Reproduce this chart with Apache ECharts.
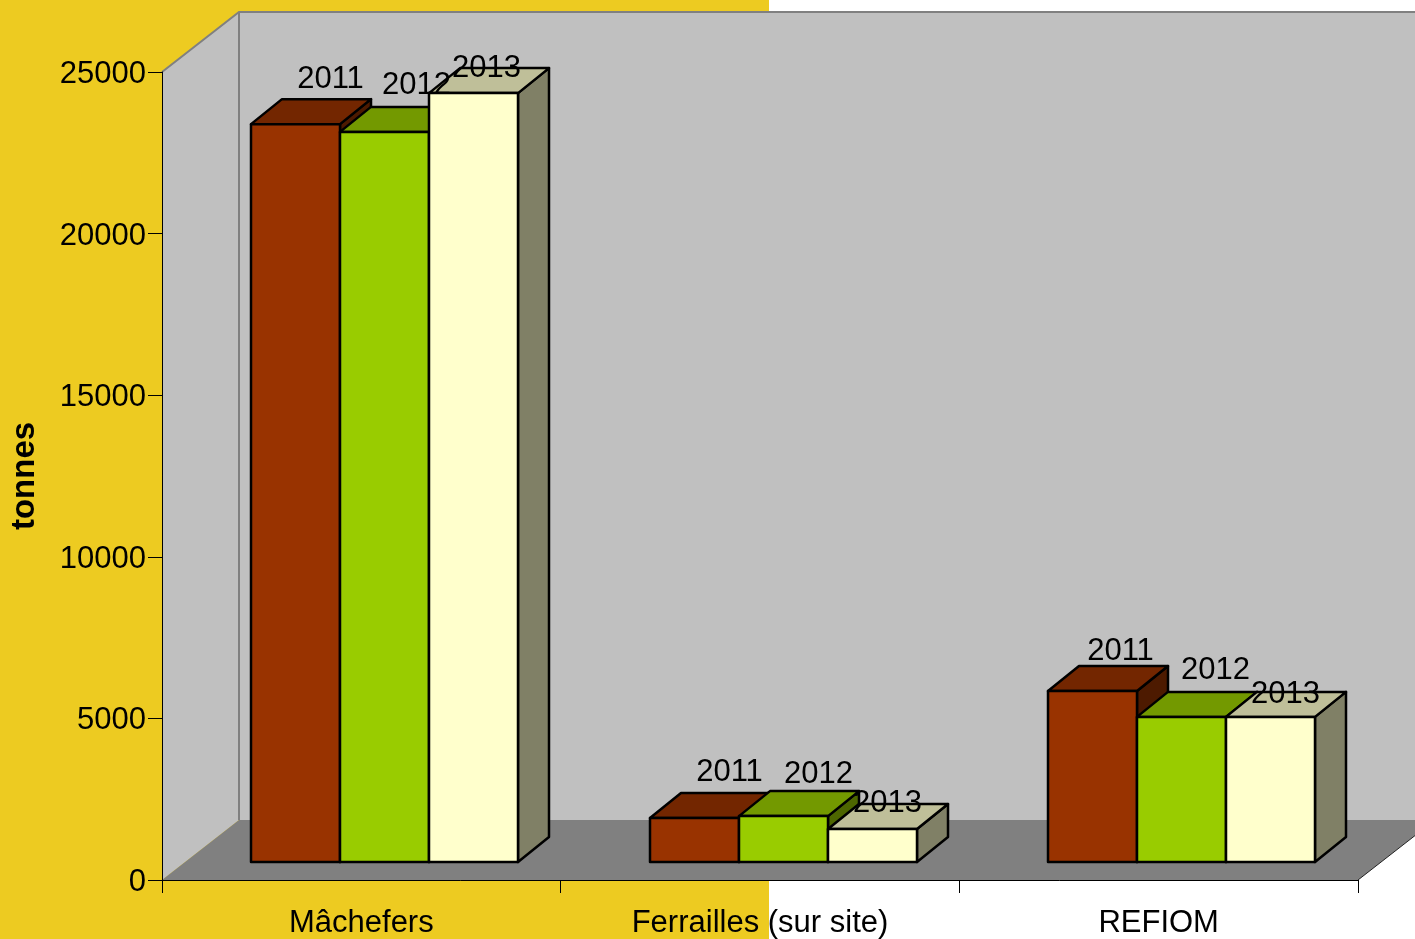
<!DOCTYPE html>
<html><head><meta charset="utf-8">
<style>html,body{margin:0;padding:0;background:#fff}#c{width:1415px;height:939px}</style>
<script src="https://cdn.jsdelivr.net/npm/echarts@6/dist/echarts.min.js"></script>
</head><body><div id="c"></div>
<script>
const categories = ['Mâchefers', 'Ferrailles (sur site)', 'REFIOM'];
const years = ['2011', '2012', '2013'];
const values2011 = [22830, 1360, 5290];
const values2012 = [22590, 1420, 4490];
const values2013 = [23790, 1020, 4490];
const yTicks = {min: 0, max: 25000, interval: 5000};
const allValues = [values2011, values2012, values2013];

const frontColors = ['#993300', '#99CC00', '#FFFFCC'];
const topColors = ['#732600', '#739900', '#BFBF99'];
const sideColors = ['#4D1A00', '#4D6600', '#808066'];
const wallDx = 77, wallDy = -60;      // depth of the 3D box
const barShiftX = 23, barShiftY = -18; // bar front plane vs axis plane
const barDx = 31, barDy = -25;         // depth of each bar
const barW = 89;
// label offset from the bar's top centre, [category][series]
const labelOffsets = [
  [[35, -45], [32, -46], [13, -25]],
  [[35, -46], [35, -42], [15, -26]],
  [[28, -40], [34, -46], [15, -22]]
];
const FONT = '"Liberation Sans", Arial, sans-serif';

const chart = echarts.init(document.getElementById('c'), null, {renderer: 'canvas'});

function renderWalls(params, api) {
  const c = params.coordSys;
  const l = c.x, r = c.x + c.width, t = c.y, b = c.y + c.height;
  const grey = '#808080';
  return {type: 'group', children: [
    {type: 'rect', shape: {x: l + wallDx, y: t + wallDy, width: c.width, height: c.height}, style: {fill: '#C0C0C0'}},
    {type: 'polygon', shape: {points: [[l, t], [l + wallDx, t + wallDy], [l + wallDx, b + wallDy], [l, b]]}, style: {fill: '#C0C0C0'}},
    {type: 'polygon', shape: {points: [[l, b], [l + wallDx, b + wallDy], [r + wallDx, b + wallDy], [r, b]]}, style: {fill: '#808080'}},
    {type: 'polyline', shape: {points: [[l, t], [l + wallDx, t + wallDy], [r + wallDx, t + wallDy]]}, style: {fill: 'none', stroke: grey, lineWidth: 2}},
    {type: 'line', shape: {x1: l + wallDx, y1: t + wallDy, x2: l + wallDx, y2: b + wallDy}, style: {stroke: grey, lineWidth: 2}},
    {type: 'line', shape: {x1: r, y1: b, x2: r + wallDx, y2: b + wallDy}, style: {stroke: '#222', lineWidth: 1}}
  ]};
}

function barGeom(api, s) {
  const base = api.coord([api.value(0), 0]);
  const top = api.coord([api.value(0), api.value(1)]);
  const x0 = Math.round(base[0] + barShiftX - 1.5 * barW + s * barW);
  return {x0, x1: x0 + barW, yb: base[1] + barShiftY, yt: top[1] + barShiftY};
}

function renderBar(s) {
  return function (params, api) {
    const g = barGeom(api, s);
    const line = {stroke: '#000', lineWidth: 2.5, lineJoin: 'round'};
    return {type: 'group', children: [
      {type: 'polygon', shape: {points: [[g.x1, g.yt], [g.x1 + barDx, g.yt + barDy], [g.x1 + barDx, g.yb + barDy], [g.x1, g.yb]]}, style: {fill: sideColors[s], ...line}},
      {type: 'polygon', shape: {points: [[g.x0, g.yt], [g.x0 + barDx, g.yt + barDy], [g.x1 + barDx, g.yt + barDy], [g.x1, g.yt]]}, style: {fill: topColors[s], ...line}},
      {type: 'rect', shape: {x: g.x0, y: g.yt, width: barW, height: g.yb - g.yt}, style: {fill: frontColors[s], ...line}}
    ]};
  };
}

function renderLabel(s) {
  return function (params, api) {
    const g = barGeom(api, s);
    const off = labelOffsets[api.value(0)][s];
    return {type: 'text', style: {
      x: (g.x0 + g.x1) / 2 + off[0], y: g.yt + off[1],
      text: years[s], align: 'center', verticalAlign: 'middle',
      font: '31px ' + FONT, fill: '#000'
    }};
  };
}

const toData = arr => arr.map((v, i) => [i, v]);
const series = [{
  type: 'custom', name: 'walls', z: 1, silent: true, clip: false,
  data: [[0, 0]], renderItem: renderWalls
}];
years.forEach((y, s) => series.push({
  type: 'custom', name: y, z: 3 + s, clip: false, silent: true,
  encode: {x: 0, y: 1}, data: toData(allValues[s]), renderItem: renderBar(s)
}));
years.forEach((y, s) => series.push({
  type: 'custom', name: y + ' labels', z: 10, clip: false, silent: true,
  encode: {x: 0, y: 1}, data: toData(allValues[s]), renderItem: renderLabel(s)
}));

chart.setOption({
  animation: false,
  backgroundColor: '#fff',
  textStyle: {fontFamily: FONT},
  graphic: {elements: [{type: 'rect', z: -1, silent: true, shape: {x: 0, y: 0, width: 769, height: 939}, style: {fill: '#EDCB21'}}]},
  grid: {left: 162, right: 57, top: 72, bottom: 59, show: false, containLabel: false, outerBoundsMode: 'none'},
  xAxis: {
    type: 'category', data: categories, z: 2,
    axisLine: {show: true, lineStyle: {color: '#000', width: 1}},
    axisTick: {show: true, length: 13, alignWithLabel: false, lineStyle: {color: '#000', width: 1}},
    axisLabel: {color: '#000', fontSize: 31, margin: 28, interval: 0, fontFamily: FONT},
    splitLine: {show: false}
  },
  yAxis: {
    type: 'value', min: yTicks.min, max: yTicks.max, interval: yTicks.interval, z: 2,
    name: 'tonnes', nameLocation: 'middle', nameRotate: 90, nameGap: 121,
    nameTextStyle: {color: '#000', fontSize: 33, fontWeight: 'bold', fontFamily: FONT},
    axisLine: {show: true, lineStyle: {color: '#000', width: 1}},
    axisTick: {show: true, length: 14, lineStyle: {color: '#000', width: 1}},
    axisLabel: {margin: 16, formatter: v => '{a|' + v + '}',
      rich: {a: {color: '#000', fontSize: 31, fontFamily: FONT, padding: [5, 0, 0, 0]}}},
    splitLine: {show: false}
  },
  series
});
</script></body></html>
